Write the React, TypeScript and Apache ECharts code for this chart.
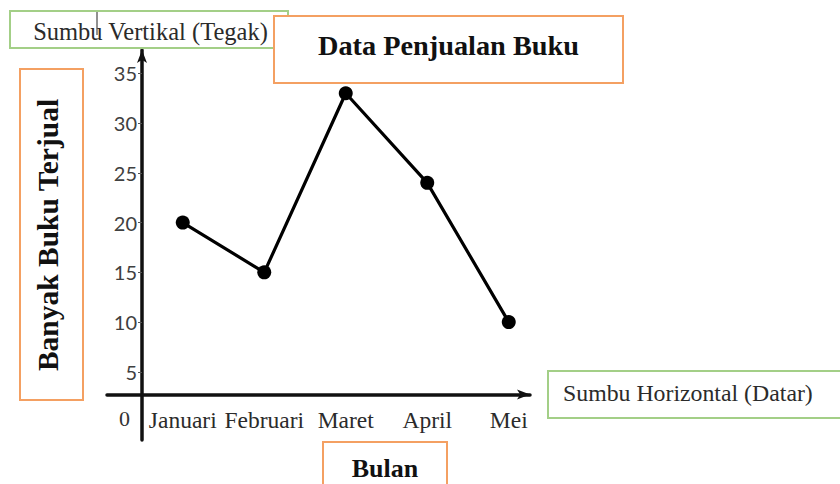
import React, { useEffect, useRef } from "react";
import * as echarts from "echarts";

const categories = ["Januari", "Februari", "Maret", "April", "Mei"];
const sales = [20, 15, 33, 24, 10];
const yTickValues = [5, 10, 15, 20, 25, 30, 35];
const yLabelValues = [0, 5, 10, 15, 20, 25, 30, 35];

const titleText = "Data Penjualan Buku";
const yNameText = "Banyak Buku Terjual";
const xNameText = "Bulan";
const yAxisNote = "Sumbu Vertikal (Tegak)";
const xAxisNote = "Sumbu Horizontal (Datar)";

const SERIF = "'Liberation Serif', 'Times New Roman', serif";
const GREEN = "#a3cf87";
const ORANGE = "#f4a062";

export default function App() {
  const ref = useRef<HTMLDivElement>(null);
  useEffect(() => {
    if (!ref.current) return;
    const chart = echarts.init(ref.current, null, { renderer: "svg" });
    const yMin = -1.85;
    const yMax = 37.35;
    chart.setOption({
      animation: false,
      backgroundColor: "#ffffff",
      grid: [
        { left: 142, right: 290.5, top: 50, bottom: 44 },
        { left: 107, right: 310, top: 50, bottom: 44 },
      ],
      xAxis: [
        {
          type: "category",
          gridIndex: 0,
          data: categories,
          boundaryGap: true,
          offset: -45.5,
          axisLine: { show: false, onZero: false },
          axisTick: { show: false },
          axisLabel: {
            margin: 13,
            color: "#2b2b2b",
            fontFamily: SERIF,
            fontSize: 23.5,
            interval: 0,
          },
          splitLine: { show: false },
        },
        {
          type: "value",
          gridIndex: 1,
          min: 0,
          max: 1,
          offset: -45.5,
          axisLine: {
            show: true,
            onZero: false,
            symbol: ["none", "arrow"],
            symbolSize: [7.5, 13],
            lineStyle: { color: "#111111", width: 3.5 },
          },
          axisTick: { show: false },
          axisLabel: { show: false },
          splitLine: { show: false },
        },
      ],
      yAxis: [
        {
          type: "value",
          gridIndex: 0,
          min: yMin,
          max: yMax,
          axisLine: {
            show: true,
            onZero: false,
            symbol: ["none", "arrow"],
            symbolSize: [7.5, 13],
            lineStyle: { color: "#111111", width: 3.5 },
          },
          axisTick: {
            show: true,
            length: 4,
            customValues: yTickValues,
            lineStyle: { color: "#555555", width: 1 },
          },
          axisLabel: {
            customValues: yLabelValues,
            margin: 5,
            color: "#404040",
            fontFamily: "Lato, 'Open Sans', sans-serif",
            fontSize: 20,
            formatter: (v: number) => (v === 0 ? "{z|0}" : String(v)),
            rich: {
              z: {
                fontFamily: SERIF,
                fontSize: 22,
                color: "#333333",
                padding: [0, 7, 7, 0],
              },
            },
          },
          splitLine: { show: false },
        },
        {
          type: "value",
          gridIndex: 1,
          min: 0,
          max: 1,
          show: false,
        },
      ],
      series: [
        {
          type: "line",
          xAxisIndex: 0,
          yAxisIndex: 0,
          data: sales,
          symbol: "circle",
          symbolSize: 14,
          lineStyle: { color: "#000000", width: 3.2 },
          itemStyle: { color: "#000000" },
          z: 5,
        },
      ],
      graphic: [
        {
          type: "rect",
          shape: { x: 10, y: 11, width: 278, height: 37 },
          style: { fill: "#ffffff", stroke: GREEN, lineWidth: 2 },
          z: 10,
        },
        {
          type: "text",
          x: 150.5,
          y: 31,
          style: {
            text: yAxisNote,
            fontFamily: SERIF,
            fontSize: 24.5,
            fill: "#2b2b2b",
            align: "center",
            verticalAlign: "middle",
          },
          z: 11,
        },
        {
          type: "line",
          shape: { x1: 97, y1: 12, x2: 97, y2: 35 },
          style: { stroke: "#222222", lineWidth: 1 },
          z: 12,
        },
        {
          type: "rect",
          shape: { x: 274, y: 16, width: 349, height: 67 },
          style: { fill: "#ffffff", stroke: ORANGE, lineWidth: 2 },
          z: 13,
        },
        {
          type: "text",
          x: 448.5,
          y: 45,
          style: {
            text: titleText,
            fontFamily: SERIF,
            fontWeight: "bold",
            fontSize: 28.3,
            fill: "#111111",
            align: "center",
            verticalAlign: "middle",
          },
          z: 14,
        },
        {
          type: "rect",
          shape: { x: 20, y: 69, width: 63, height: 331 },
          style: { fill: "#ffffff", stroke: ORANGE, lineWidth: 2 },
          z: 10,
        },
        {
          type: "text",
          x: 48,
          y: 235,
          rotation: Math.PI / 2,
          style: {
            text: yNameText,
            fontFamily: SERIF,
            fontWeight: "bold",
            fontSize: 29.5,
            fill: "#111111",
            align: "center",
            verticalAlign: "middle",
          },
          z: 11,
        },
        {
          type: "rect",
          shape: { x: 548, y: 371, width: 300, height: 47 },
          style: { fill: "#ffffff", stroke: GREEN, lineWidth: 2 },
          z: 10,
        },
        {
          type: "text",
          x: 563,
          y: 393,
          style: {
            text: xAxisNote,
            fontFamily: SERIF,
            fontSize: 23.8,
            fill: "#2b2b2b",
            align: "left",
            verticalAlign: "middle",
          },
          z: 11,
        },
        {
          type: "rect",
          shape: { x: 323, y: 442, width: 124, height: 60 },
          style: { fill: "#ffffff", stroke: ORANGE, lineWidth: 2 },
          z: 10,
        },
        {
          type: "text",
          x: 385,
          y: 468,
          style: {
            text: xNameText,
            fontFamily: SERIF,
            fontWeight: "bold",
            fontSize: 26,
            fill: "#111111",
            align: "center",
            verticalAlign: "middle",
          },
          z: 11,
        },
      ],
    });
    return () => chart.dispose();
  }, []);
  return (
    <div
      ref={ref}
      style={{ position: "fixed", left: 0, top: 0, width: 840, height: 484 }}
    />
  );
}
